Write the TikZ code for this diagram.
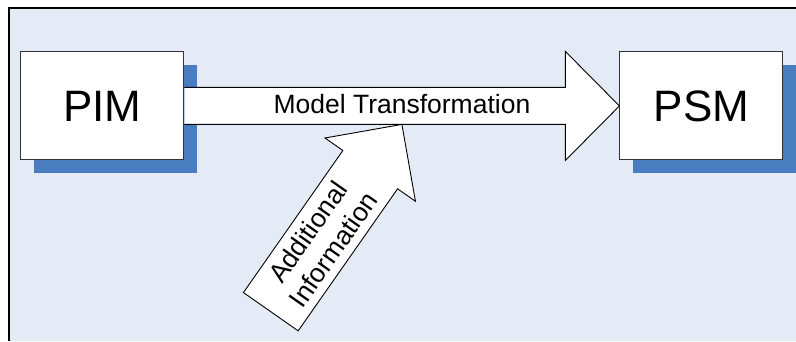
\documentclass[tikz,border=0pt]{standalone}
\usepackage{fontspec}
\setmainfont{Liberation Sans}
\usetikzlibrary{positioning}
\usetikzlibrary{calc}
\usetikzlibrary{shadows}

\definecolor{bgblue}{RGB}{228,235,246}
\definecolor{shadeblue}{RGB}{74,124,192}

\begin{document}
\begin{tikzpicture}[
			x=1pt, y=-1pt,
			model/.style={rectangle, minimum width=163pt, minimum height=108pt, draw=black!80, fill=white, line width=1pt, font=\fontsize{44}{50}\selectfont,
				drop shadow={shadow xshift=13.5pt, shadow yshift=-13.5pt, opacity=1, fill=shadeblue}},
			blockarrow/.style={draw=black, fill=white, line width=0.9pt, line join=miter},
			label/.style={font=\fontsize{26.5}{31}\selectfont, align=center},
			]
			
			\useasboundingbox (0,0) rectangle (796,341);
			\fill[bgblue] (9,8) rectangle (796,341);
			\draw[line width=1.3pt] (9,341) -- (9,8) -- (796,8);
			
			\node[model]       (pim)                          at (102.4,105.9)  {PIM};
			\node[model]       (psm) [right=435pt of pim]                       {PSM};
			
			% model transformation arrow
			\draw[blockarrow] ($(pim.east)+(0,-18.5)$) -- ($(psm.west)+(-54,-18.5)$) -- ($(psm.north west)+(-54,0)$) -- (psm.west)
				-- ($(psm.south west)+(-54,0)$) -- ($(psm.west)+(-54,18.5)$) -- ($(pim.east)+(0,18.5)$);
			\path (pim.east) -- node[label, pos=0.5, yshift=2pt] (mt) {Model Transformation} (psm.west);
			
			% additional information arrow
			\coordinate (ai_tip)  at ($(pim.east)!0.5!(psm.west)+(0,18.5)$);
			\coordinate (ai_tail) at (270.8,311.7);
			\coordinate (ai_neck) at ($(ai_tail)!173.4pt!(ai_tip)$);
			\draw[blockarrow] ($(ai_tail)!33.4pt!90:(ai_tip)$) -- ($(ai_neck)!33.4pt!90:(ai_tip)$) -- ($(ai_neck)!55.2pt!90:(ai_tip)$) -- (ai_tip)
				-- ($(ai_neck)!55.2pt!-90:(ai_tip)$) -- ($(ai_neck)!33.4pt!-90:(ai_tip)$) -- ($(ai_tail)!33.4pt!-90:(ai_tip)$) -- cycle;
			\path (ai_tail) -- node[label, sloped, pos=0.5] (ai) {Additional\\Information} (ai_neck);
			
\end{tikzpicture}
\end{document}
